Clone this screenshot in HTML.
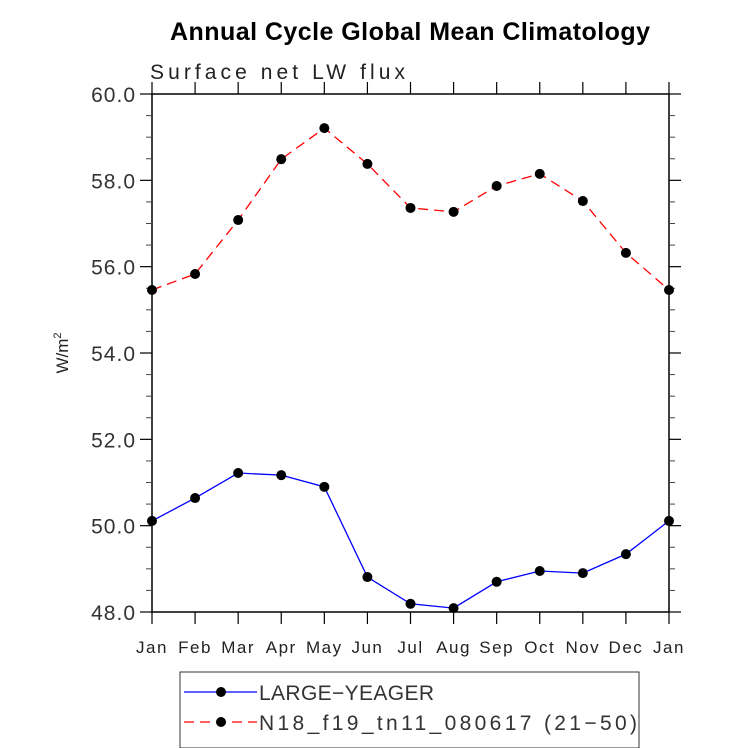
<!DOCTYPE html>
<html><head><meta charset="utf-8"><style>body{margin:0;background:#fff}svg{display:block}text{font-family:"Liberation Sans",sans-serif}</style></head>
<body>
<svg id="chart" width="733" height="748" xmlns="http://www.w3.org/2000/svg">
<text x="410" y="40" text-anchor="middle" font-size="25" font-weight="bold" textLength="480">Annual Cycle Global Mean Climatology</text>
<text x="150" y="79" font-size="21" fill="#222" textLength="255">Surface net LW flux</text>
<text transform="translate(68,353) rotate(-90)" text-anchor="middle" font-size="17" fill="#222">W/m<tspan dy="-7" font-size="11">2</tspan></text>
<g id="axes"></g>
<g id="series"></g>
<g>
<rect x="180" y="672" width="459" height="76" fill="none" stroke="#333" stroke-width="1"/>
<line x1="184" y1="692" x2="257" y2="692" stroke="#00f" stroke-width="1.3"/>
<circle cx="221" cy="692" r="5" fill="#000"/>
<text x="259" y="700" font-size="21" fill="#333" textLength="175">LARGE−YEAGER</text>
<line x1="184" y1="722" x2="257" y2="722" stroke="#f00" stroke-width="1.3" stroke-dasharray="10,6"/>
<circle cx="221" cy="722" r="5" fill="#000"/>
<text x="259" y="730" font-size="21" fill="#333" textLength="378">N18_f19_tn11_080617 (21−50)</text>
</g>
</svg>
<script>
const months=["Jan","Feb","Mar","Apr","May","Jun","Jul","Aug","Sep","Oct","Nov","Dec","Jan"];
const largeYeager=[50.11,50.64,51.22,51.17,50.90,48.81,48.19,48.09,48.70,48.95,48.90,49.34,50.11];
const n18=[55.46,55.83,57.08,58.49,59.21,58.38,57.36,57.27,57.87,58.15,57.52,56.32,55.46];
const yTicks=[48,50,52,54,56,58,60];
const yTickLabels=["48.0","50.0","52.0","54.0","56.0","58.0","60.0"];
const X0=152,X1=669,Y0=94,Y1=612,YMIN=48,YMAX=60;
const xs=i=>X0+i*(X1-X0)/(months.length-1);
const ys=v=>Y1-(v-YMIN)/(YMAX-YMIN)*(Y1-Y0);
const NS="http://www.w3.org/2000/svg";
function mk(t,a,p){const e=document.createElementNS(NS,t);for(const k in a)e.setAttribute(k,a[k]);p.appendChild(e);return e;}
const ax=document.getElementById('axes');
const frame=mk('rect',{x:X0,y:Y0,width:X1-X0,height:Y1-Y0,fill:'none',stroke:'#000','stroke-width':1.5},ax);


months.forEach((m,i)=>{
 const x=xs(i);
 mk('line',{x1:x,y1:Y1,x2:x,y2:Y1+12,stroke:'#000','stroke-width':1.2},ax);
 mk('line',{x1:x,y1:Y0,x2:x,y2:Y0-12,stroke:'#000','stroke-width':1.2},ax);
 const t=mk('text',{x:x,y:Y1+41,'text-anchor':'middle','font-size':17,fill:'#222','letter-spacing':1.5},ax);
 t.textContent=m;
 
 
});
for(let v=YMIN;v<=YMAX+0.001;v+=0.5){
 const y=ys(v),major=Math.abs(v-Math.round(v/2)*2)<0.01;
 const L=major?12:6;
 mk('line',{x1:X0-L,y1:y,x2:X0,y2:y,stroke:major?'#000':'#444','stroke-width':major?1.2:1},ax);
 mk('line',{x1:X1,y1:y,x2:X1+L,y2:y,stroke:major?'#000':'#444','stroke-width':major?1.2:1},ax);
}
yTicks.forEach((v,i)=>{
 const t=mk('text',{x:X0-16,y:ys(v)+8,'text-anchor':'end','font-size':21,fill:'#333','letter-spacing':1},ax);
 t.textContent=yTickLabels[i];
 
 
});
const sg=document.getElementById('series');
function series(data,color,dash,name){
 const g=mk('g',{},sg);
 
 
 const a={points:data.map((v,i)=>xs(i)+','+ys(v)).join(' '),fill:'none',stroke:color,'stroke-width':1.3};
 if(dash)a['stroke-dasharray']=dash;
 mk('polyline',a,g);
 data.forEach((v,i)=>{const c=mk('circle',{cx:xs(i),cy:ys(v),r:5,fill:'#000'},g);
  
  });
}
series(largeYeager,'#00f',null,'series-large-yeager');
series(n18,'#f00','10,6','series-n18');
</script>
</body></html>
